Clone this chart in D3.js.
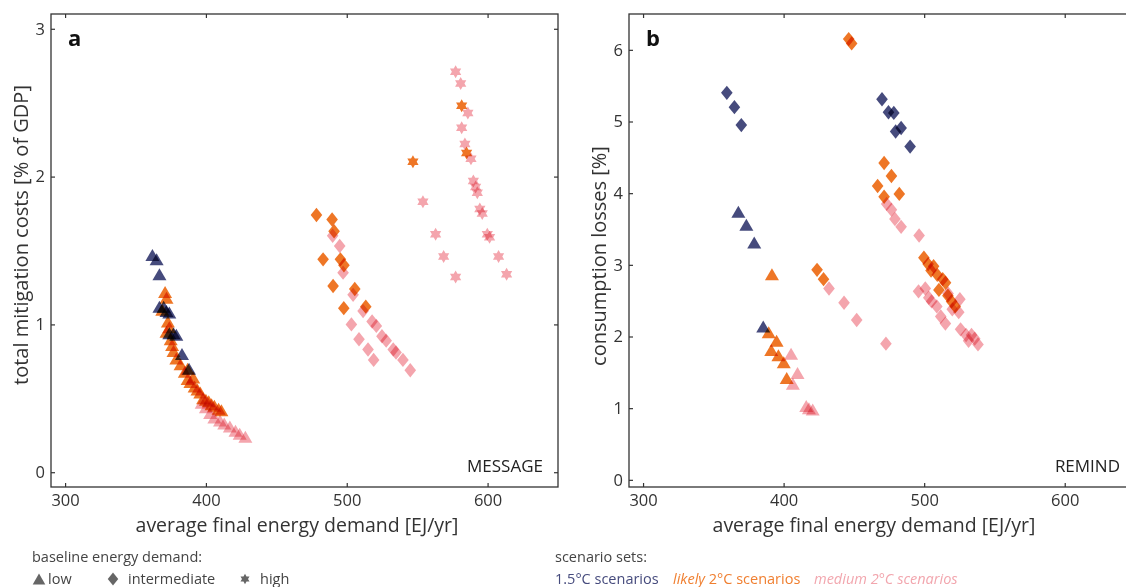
<!DOCTYPE html>
<html>
<head>
<meta charset="utf-8">
<script src="https://cdn.jsdelivr.net/npm/d3@7"></script>
<style>
  body { margin: 0; background: #fff; }
  svg { display: block; font-family: "Open Sans", sans-serif; }
  .mark { mix-blend-mode: multiply; }
</style>
</head>
<body>
<div id="chart"></div>
<script>
// axes
const xTicks = [300, 400, 500, 600];
const msgYTicks = [0, 1, 2, 3];
const remYTicks = [0, 1, 2, 3, 4, 5, 6];

// MESSAGE (panel a) - [final energy EJ/yr, mitigation costs % GDP]
const msg15Low = [[362,1.47],[365,1.44],[367,1.34],[367,1.12],[370,1.12],[372,1.09],[374,1.08],
  [374,0.94],[377,0.94],[379,0.93],[383,0.80],[388,0.70]];
const msgLikelyLow = [[371,1.22],[372,1.18],[369,1.10],[373,1.02],[374,0.98],[372,0.95],[375,0.90],
  [376,0.86],[377,0.82],[379,0.77],[382,0.73],[385,0.68],[387,0.70],[387,0.63],[389,0.61],[391,0.64],
  [392,0.58],[394,0.56],[396,0.54],[398,0.50],[400,0.49],[402,0.48],[404,0.46],[406,0.45],[409,0.43],[411,0.42]];
const msgMediumLow = [[397,0.47],[400,0.44],[403,0.40],[406,0.37],[410,0.35],[413,0.33],[417,0.31],
  [421,0.28],[424,0.26],[428,0.24]];
const msgLikelyMid = [[478.5,1.74],[489.6,1.71],[491,1.63],[483.2,1.44],[495.5,1.44],[498,1.40],
  [505.7,1.24],[490.3,1.26],[497.9,1.11],[513.5,1.12]];
const msgMediumMid = [[490,1.60],[495,1.53],[497.4,1.35],[504.5,1.20],[511.6,1.09],[503.3,1.00],
  [518,1.02],[521,0.99],[508.7,0.90],[525,0.92],[528,0.89],[515.1,0.83],[533,0.83],[535,0.81],
  [519.1,0.76],[539.9,0.76],[545.1,0.69]];
const msgLikelyHigh = [[581.6,2.48],[585.1,2.16],[547,2.10]];
const msgMediumHigh = [[577.3,2.71],[580.9,2.63],[586,2.43],[581.6,2.33],[583.9,2.22],[588.2,2.12],
  [589.9,1.97],[591.5,1.93],[592.7,1.89],[594.5,1.78],[596.2,1.75],[554.1,1.83],[599.8,1.61],
  [601.4,1.59],[563.1,1.61],[568.8,1.46],[607.8,1.46],[577.3,1.32],[613.5,1.34]];

// REMIND (panel b) - [final energy EJ/yr, consumption losses %]
const rem15Low = [[367.8,3.74],[373.5,3.56],[379.1,3.31],[385.5,2.14]];
const rem15Mid = [[359.6,5.40],[365,5.20],[369.9,4.95],[470,5.31],[474.6,5.13],[478.4,5.12],
  [479.7,4.86],[483.6,4.91],[490,4.65]];
const remLikelyLow = [[391.7,2.87],[389.4,2.06],[395,1.94],[391.2,1.81],[396.3,1.74],[400.1,1.64],[402.2,1.42]];
const remMediumLow = [[405.3,1.76],[409.9,1.49],[406.6,1.34],[416.1,1.03],[418,1.0],[420.7,0.98]];
const remLikelyMid = [[446.3,6.15],[448.4,6.09],[471.5,4.42],[476.7,4.24],[466.9,4.10],[471.5,3.95],
  [482.3,3.99],[423.8,2.93],[428.4,2.80],[499.8,3.10],[502.8,3.01],[506.7,2.98],[504.9,2.92],
  [509.3,2.86],[513.2,2.80],[515.2,2.75],[510.5,2.65],[516.9,2.57],[519.5,2.49],[522.1,2.42]];
const remMediumMid = [[432.3,2.67],[443,2.47],[452,2.23],[472.8,1.90],[473.3,3.85],[476.7,3.77],
  [479.2,3.64],[483.6,3.53],[496.4,3.41],[496,2.63],[500.8,2.67],[503.3,2.54],[505.3,2.49],
  [509,2.42],[511.8,2.28],[515.1,2.18],[517,2.6],[520,2.38],[525.4,2.52],[524.6,2.34],
  [525.9,2.10],[529.8,2.02],[531.6,1.94],[533.7,2.02],[536,1.97],[538.3,1.89]];

const colors = { c15: "#464b7d", likely: "#ee7626", medium: "#f4a5ad" };

// marker shapes as d3 symbol types
const tri = { draw(c, s) { const w = 7, h = 6; c.moveTo(0, -h); c.lineTo(w, h); c.lineTo(-w, h); c.closePath(); } };
const dia = { draw(c, s) { const w = 5.8, h = 7.2; c.moveTo(0, -h); c.lineTo(w, 0); c.lineTo(0, h); c.lineTo(-w, 0); c.closePath(); } };
const star = { draw(c, s) {
  const R = 6.5, r = R / Math.sqrt(3);
  for (let i = 0; i < 12; i++) {
    const a = -Math.PI / 2 + i * Math.PI / 6, rr = i % 2 ? r : R;
    i ? c.lineTo(rr * Math.cos(a), rr * Math.sin(a)) : c.moveTo(rr * Math.cos(a), rr * Math.sin(a));
  }
  c.closePath();
} };

const W = 1126, H = 587;
const svg = d3.select("#chart").append("svg").attr("width", W).attr("height", H);

const panels = [
  { left: 51, right: 558, yDomain: [-0.1, 3.1], yTicks: msgYTicks, letter: "a", model: "MESSAGE",
    yTitle: "total mitigation costs [% of GDP]", yTitleX: 28, yTitleY: 235, xTitleX: 297,
    series: [
      [msgMediumLow, tri, colors.medium], [msgMediumMid, dia, colors.medium], [msgMediumHigh, star, colors.medium],
      [msgLikelyLow, tri, colors.likely], [msgLikelyMid, dia, colors.likely], [msgLikelyHigh, star, colors.likely],
      [msg15Low, tri, colors.c15]
    ] },
  { left: 629, right: 1135, yDomain: [-0.1, 6.5], yTicks: remYTicks, letter: "b", model: "REMIND",
    yTitle: "consumption losses [%]", yTitleX: 606, yTitleY: 256, xTitleX: 874,
    series: [
      [remMediumLow, tri, colors.medium], [remMediumMid, dia, colors.medium],
      [remLikelyLow, tri, colors.likely], [remLikelyMid, dia, colors.likely],
      [rem15Low, tri, colors.c15], [rem15Mid, dia, colors.c15]
    ] }
];
const plotTop = 14, plotBottom = 487;

panels.forEach((p, i) => {
  const x = d3.scaleLinear().domain([290, 650]).range([p.left, p.right]);
  const y = d3.scaleLinear().domain(p.yDomain).range([plotBottom, plotTop]);
  const g = svg.append("g");

  g.append("clipPath").attr("id", "clip" + i)
    .append("rect").attr("x", p.left).attr("y", plotTop).attr("width", p.right - p.left).attr("height", plotBottom - plotTop);

  const marks = g.append("g").attr("clip-path", `url(#clip${i})`);
  p.series.forEach(([data, shape, col]) => {
    marks.selectAll(null).data(data).enter().append("path")
      .attr("class", "mark")
      .attr("d", d3.symbol(shape))
      .attr("transform", d => `translate(${x(d[0])},${y(d[1])})`)
      .attr("fill", col);
  });

  const style = sel => {
    sel.select(".domain").remove();
    sel.selectAll("line").attr("stroke", "#333").attr("stroke-width", 1.2);
    sel.selectAll("text").attr("font-family", "Open Sans").attr("font-size", 16.5).attr("fill", "#333");
  };
  g.append("g").attr("transform", `translate(0,${plotBottom})`)
    .call(d3.axisBottom(x).tickValues(xTicks).tickFormat(d3.format("d")).tickSize(-4).tickPadding(7)).call(style);
  g.append("g").attr("transform", `translate(0,${plotTop})`)
    .call(d3.axisTop(x).tickValues(xTicks).tickSize(-4).tickFormat("")).call(style);
  g.append("g").attr("transform", `translate(${p.left},0)`)
    .call(d3.axisLeft(y).tickValues(p.yTicks).tickFormat(d3.format("d")).tickSize(-4).tickPadding(6)).call(style);
  g.append("g").attr("transform", `translate(${p.right},0)`)
    .call(d3.axisRight(y).tickValues(p.yTicks).tickSize(-4).tickFormat("")).call(style);

  g.append("rect").attr("x", p.left).attr("y", plotTop).attr("width", p.right - p.left).attr("height", plotBottom - plotTop)
    .attr("fill", "none").attr("stroke", "#333").attr("stroke-width", 1.3);

  g.append("text").attr("x", p.left + 17).attr("y", 46).attr("font-size", 22).attr("font-weight", "bold")
    .attr("fill", "#111").text(p.letter);
  g.append("text").attr("x", Math.min(p.right - 15, 1123)).attr("y", 472).attr("text-anchor", "end")
    .attr("font-size", 17).attr("fill", "#222").text(p.model);
  g.append("text").attr("x", p.xTitleX).attr("y", 532).attr("text-anchor", "middle")
    .attr("font-size", 19.5).attr("fill", "#333").text("average final energy demand [EJ/yr]");
  g.append("text").attr("transform", `translate(${p.yTitleX},${p.yTitleY}) rotate(-90)`)
    .attr("text-anchor", "middle").attr("font-size", 20).attr("fill", "#333").text(p.yTitle);
});

// legends
const leg = svg.append("g").attr("font-size", 14.5).attr("fill", "#444");
leg.append("text").attr("x", 32).attr("y", 562).text("baseline energy demand:");
[[tri, 39, "low", 48], [dia, 113, "intermediate", 128], [star, 245, "high", 260]].forEach(([s, mx, t, tx]) => {
  leg.append("path").attr("d", d3.symbol(s)).attr("fill", "#666")
    .attr("transform", `translate(${mx},579) scale(${s === star ? 0.8 : 0.9})`);
  leg.append("text").attr("x", tx).attr("y", 584).text(t);
});
leg.append("text").attr("x", 555).attr("y", 562).text("scenario sets:");
leg.append("text").attr("x", 555).attr("y", 584).attr("fill", colors.c15).text("1.5°C scenarios");
const lk = leg.append("text").attr("x", 673).attr("y", 584).attr("fill", "#f07f30");
lk.append("tspan").attr("font-style", "italic").text("likely");
lk.append("tspan").text(" 2°C scenarios");
leg.append("text").attr("x", 814).attr("y", 584).attr("fill", "#f2a6ae").attr("font-style", "italic")
  .text("medium 2°C scenarios");
</script>
</body>
</html>
